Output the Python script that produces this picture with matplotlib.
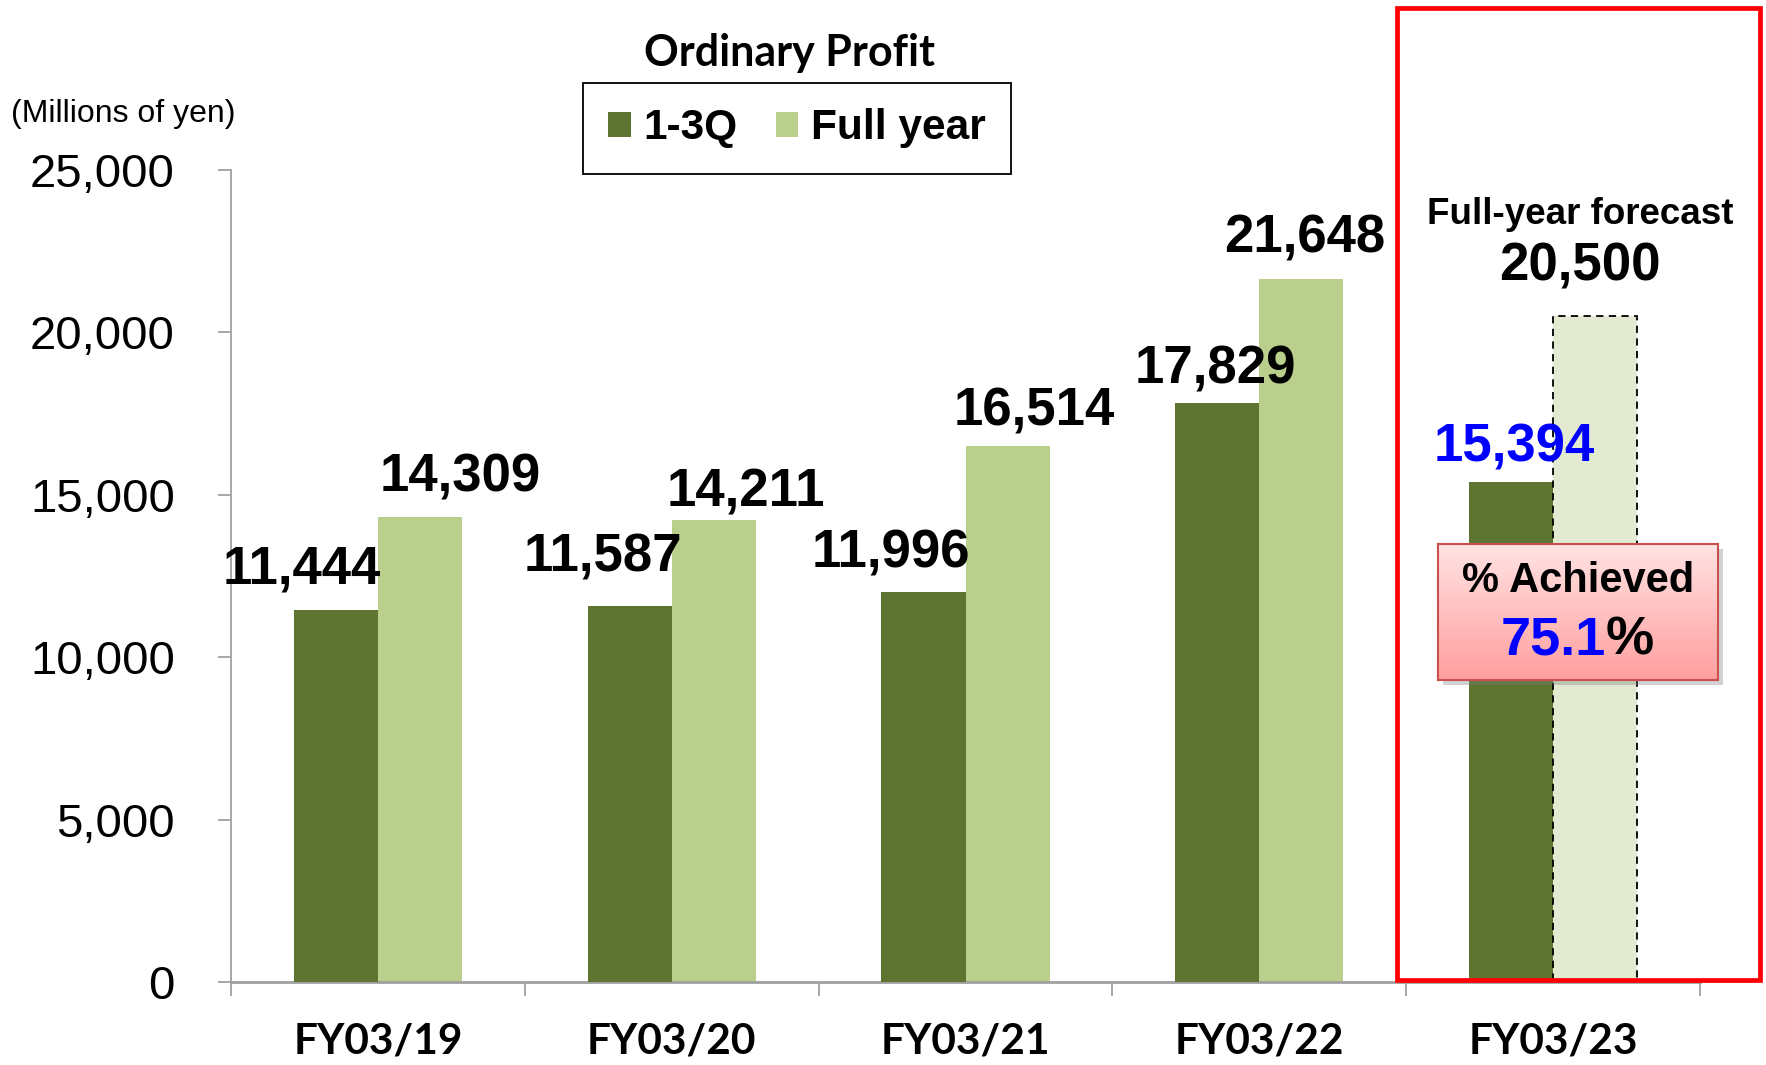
import matplotlib.pyplot as plt
import numpy as np
from matplotlib.patches import Rectangle
from matplotlib.colors import LinearSegmentedColormap

plt.rcParams['font.family'] = ['Liberation Sans', 'DejaVu Sans']

# Ordinary profit (millions of yen)
years = ["FY03/19", "FY03/20", "FY03/21", "FY03/22", "FY03/23"]
q13 = [11444, 11587, 11996, 17829, 15394]
full_year = [14309, 14211, 16514, 21648]
forecast = 20500
achieved = 75.1

dark = "#5E7431"
light = "#B9CF8B"
pale = "#E2EAD1"

W, H = 1766, 1065
fig = plt.figure(figsize=(W / 100, H / 100), dpi=100)
ax = fig.add_axes([231 / W, 1 - 982 / H, (1700 - 231) / W, (982 - 170) / H])

x = np.arange(len(years))
w = 0.286
b1 = ax.bar(x - w / 2, q13, w, color=dark, label="1-3Q", zorder=3)
b2 = ax.bar(x[:4] + w / 2, full_year, w, color=light, label="Full year", zorder=2)
ax.bar(x[4] + w / 2, forecast, w, color=pale, edgecolor="black",
       linestyle=(0, (4, 3)), linewidth=1.3, zorder=4)

ax.set_xlim(-0.5, 4.5)
ax.set_ylim(0, 25000)
ax.set_yticks(range(0, 25001, 5000))
ax.set_yticklabels([f"{v:,}" for v in range(0, 25001, 5000)], fontsize=34)
ax.set_xticks(x)
ax.set_xticklabels(years, fontsize=30.5, fontweight="bold", family="Lato")
ax.set_xticks(np.arange(-0.5, 4.6, 1), minor=True)
ax.tick_params(axis="x", which="major", length=0, pad=29)
ax.tick_params(axis="x", which="minor", length=10, color="#A0A0A0", width=1.3)
ax.tick_params(axis="y", length=9.5, color="#A0A0A0", width=1.3, pad=31)
for s in ["top", "right"]:
    ax.spines[s].set_visible(False)
ax.spines["left"].set_color("#A0A0A0")
ax.spines["left"].set_linewidth(1.3)
ax.spines["bottom"].set_color("#A0A0A0")
ax.spines["bottom"].set_linewidth(2)

# label nudges (pixels) to follow the original placement
dx1 = [-34, -27, -33, -2]
dy1 = [41, 48, 39, 33]
dx2 = [40, 32, 27, 3]
dy2 = [40, 28, 34, 40]
lab = dict(textcoords="offset points", ha="center", va="center", fontsize=38,
           fontweight="bold", zorder=6)
for i in range(4):
    ax.annotate(f"{q13[i]:,}", xy=(x[i] - w / 2, q13[i]), xytext=(dx1[i] * 0.72, dy1[i] * 0.72), **lab)
    ax.annotate(f"{full_year[i]:,}", xy=(x[i] + w / 2, full_year[i]), xytext=(dx2[i] * 0.72, dy2[i] * 0.72), **lab)
ax.annotate(f"{q13[4]:,}", xy=(x[4] - w / 2, q13[4]), xytext=(2, 35 * 0.72), color="#0000FF", **lab)
ax.annotate(f"{forecast:,}", xy=(x[4], forecast), xytext=(27 * 0.72, 50 * 0.72), **lab)
ax.annotate("Full-year forecast", xy=(x[4], forecast), xytext=(27 * 0.72, 102 * 0.72),
            textcoords="offset points", ha="center", va="center", fontsize=26.5, fontweight="bold")

fig.text(11 / W, 1 - 114 / H, "(Millions of yen)", ha="left", va="center", fontsize=23)
fig.text(790 / W, 1 - 53 / H, "Ordinary Profit", ha="center", va="center",
         fontsize=31, fontweight="bold", family="Lato")

leg = ax.legend(handles=[b1, b2], loc="center", bbox_to_anchor=(797 / W, 1 - 128.5 / H),
                bbox_transform=fig.transFigure, ncol=2, frameon=True, fancybox=False,
                edgecolor="black", framealpha=1, handlelength=0.53, handleheight=0.53,
                handletextpad=0.3, columnspacing=0.9, borderpad=0.6,
                prop={"size": 30.5, "weight": "bold"})
leg.get_frame().set_linewidth(1.3)

# red frame around forecast year
fig.patches.append(Rectangle((1397 / W, 1 - 980 / H), (1760 - 1397) / W, (980 - 8) / H,
                             transform=fig.transFigure, fill=False, edgecolor="#FF0000", lw=3.4))

# "% Achieved" box
fig.patches.append(Rectangle((1443 / W, 1 - 685 / H), 280 / W, 136 / H, transform=fig.transFigure,
                             facecolor="#808080", alpha=0.35, edgecolor="none"))
bax = fig.add_axes([1438 / W, 1 - 680 / H, 280 / W, 136 / H], zorder=5)
grad = np.linspace(0, 1, 256).reshape(-1, 1)
cmap = LinearSegmentedColormap.from_list("pink", ["#FFE3E3", "#FF9F9F"])
bax.imshow(grad, aspect="auto", cmap=cmap, extent=[0, 1, 0, 1], origin="upper")
bax.set_xticks([])
bax.set_yticks([])
for s in bax.spines.values():
    s.set_color("#C9504C")
    s.set_linewidth(1.5)
bax.text(0.5, 0.728, "% Achieved", ha="center", va="center", fontsize=30, fontweight="bold",
         transform=bax.transAxes)
bax.text(0.6, 0.294, f"{achieved}", ha="right", va="center", fontsize=39, fontweight="bold",
         color="#0000FF", transform=bax.transAxes)
bax.text(0.6, 0.294, "%", ha="left", va="center", fontsize=39, fontweight="bold",
         transform=bax.transAxes)

fig.savefig("out.png", dpi=100)
